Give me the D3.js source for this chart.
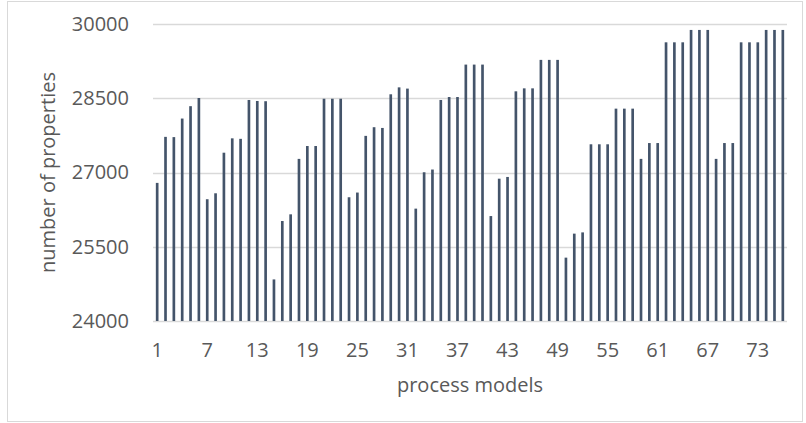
<!DOCTYPE html>
<html>
<head>
<meta charset="utf-8">
<script src="https://cdn.jsdelivr.net/npm/d3@7"></script>
<style>
  body { margin: 0; background: #fff; }
  text { font-family: "Open Sans", sans-serif; fill: #595959; }
</style>
</head>
<body>
<script>
// process model ids 1..76
var models = d3.range(1, 77);

// number of properties per process model
var properties = [
  26790, 27720, 27715, 28090, 28340, 28505, 26460, 26580, 27400, 27690,
  27680, 28465, 28445, 28440, 24840, 26020, 26155, 27275, 27535, 27535,
  28490, 28490, 28490, 26500, 26595, 27740, 27915, 27900, 28580, 28720,
  28695, 26270, 27005, 27060, 28465, 28525, 28525, 29180, 29180, 29180,
  26120, 26875, 26910, 28640, 28700, 28700, 29275, 29275, 29275, 25280,
  25765, 25790, 27570, 27570, 27570, 28290, 28290, 28290, 27275, 27595,
  27595, 29630, 29630, 29630, 29880, 29880, 29880, 27275, 27595, 27595,
  29630, 29630, 29630, 29880, 29880, 29880
];

var xTicks = [1, 7, 13, 19, 25, 31, 37, 43, 49, 55, 61, 67, 73];
var yTicks = [24000, 25500, 27000, 28500, 30000];

function init(){
    var w = 806;
    var h = 423;
    var left = 153, right = 787, top = 24, bottom = 321;

    var svg = d3.select("body")
                .append("svg")
                .attr("width", w)
                .attr("height", h);

    // chart border
    svg.append("rect")
        .attr("x", 7.5).attr("y", 1.5)
        .attr("width", 795).attr("height", 420)
        .attr("fill", "none")
        .attr("stroke", "#d9d9d9");

    var x = d3.scaleBand()
              .domain(models)
              .range([left, right])
              .paddingInner(0.68)
              .paddingOuter(0.34);

    var y = d3.scaleLinear()
              .domain([24000, 30000])
              .range([bottom, top]);

    // gridlines
    svg.append("g")
        .selectAll("line")
        .data(yTicks)
        .enter()
        .append("line")
        .attr("x1", left)
        .attr("x2", right)
        .attr("y1", function(d){ return Math.round(y(d)) + 0.5; })
        .attr("y2", function(d){ return Math.round(y(d)) + 0.5; })
        .attr("stroke", "#d9d9d9")
        .attr("stroke-width", 1.3);

    // bars
    svg.append("g")
        .selectAll("rect")
        .data(properties)
        .enter()
        .append("rect")
        .attr("x", function(d, i){ return x(models[i]); })
        .attr("width", x.bandwidth())
        .attr("y", function(d){ return y(d); })
        .attr("height", function(d){ return y(24000) - y(d); })
        .attr("fill", "#44546a");

    // y axis labels
    var yAxis = d3.axisLeft(y)
                  .tickValues(yTicks)
                  .tickFormat(d3.format("d"))
                  .tickSize(0)
                  .tickPadding(24);
    var gy = svg.append("g")
        .attr("transform", "translate(" + left + ",0)")
        .call(yAxis);
    gy.select(".domain").remove();
    gy.selectAll("text")
        .style("font-size", "20px")
        .attr("font-family", null);

    // x axis labels
    var xAxis = d3.axisBottom(x).tickValues(xTicks).tickSize(0).tickPadding(22);
    var gx = svg.append("g")
        .attr("transform", "translate(0," + bottom + ")")
        .call(xAxis);
    gx.select(".domain").remove();
    gx.selectAll("text")
        .style("font-size", "20px")
        .attr("font-family", null);

    // axis titles
    svg.append("text")
        .attr("x", (left + right) / 2)
        .attr("y", 392)
        .attr("text-anchor", "middle")
        .style("font-size", "20px")
        .text("process models");

    svg.append("text")
        .attr("transform", "translate(55," + (top + bottom) / 2 + ") rotate(-90)")
        .attr("text-anchor", "middle")
        .style("font-size", "20px")
        .text("number of properties");
}
window.onload = init;
</script>
</body>
</html>
